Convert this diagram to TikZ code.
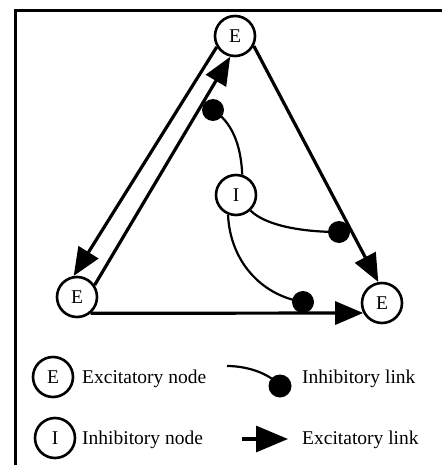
\documentclass[tikz,border=0pt]{standalone}
\usepackage{fontspec}
\setmainfont{Liberation Serif}
\usetikzlibrary{arrows.meta}
\begin{document}
\begin{tikzpicture}[x=1pt,y=-1pt,
  neuron/.style={circle, draw, line width=2.6pt, minimum size=40pt, inner sep=0pt, font=\fontsize{19.5}{22}\selectfont},
  exc/.style={line width=3.2pt, -{Triangle[length=28pt,width=23pt]}},
  inh/.style={line width=2.2pt},
  blob/.style={circle, fill, inner sep=0pt, minimum size=22pt},
  lbl/.style={anchor=base west, font=\fontsize{19.5}{22}\selectfont, inner sep=0pt},
  frameline/.style={line width=3pt}]
\useasboundingbox (0,0) rectangle (441,465);
% frame (left and top edges visible)
\coordinate (fb) at (15,470);
\coordinate (fc) at (15,11);
\coordinate (fr) at (446,11);
\draw[frameline] (fb) -- (fc) -- (fr);
% nodes
\node[neuron] (tE) at (235,36) {E};
\node[neuron] (I) at (236,195) {I};
\node[neuron] (lE) at (77,297) {E};
\node[neuron] (rE) at (382,303) {E};
% excitatory links
\draw[exc] (tE.211) -- (lE.99);
\draw[exc] (lE.34) -- (tE.257);
\draw[exc] (tE.332) -- (rE.100);
\draw[exc] (lE.-50) -- (rE.208);
% inhibitory links
\node[blob] (d1) at (213,110) {};
\node[blob] (d2) at (339,232) {};
\node[blob] (d3) at (303,302) {};
\draw[inh] (I.73) .. controls (241,145) and (232,122) .. (d1.center);
\draw[inh] (I.-47) .. controls (265,225) and (300,232) .. (d2.center);
\draw[inh] (I.-112) .. controls (230,260) and (260,295) .. (d3.center);
% legend
\node[neuron] (lgE) at (53,377) {E};
\node[neuron] (lgI) at (55,438) {I};
\node[lbl] (t1) at (82,383) {Excitatory node};
\node[lbl] (t2) at (302,383) {Inhibitory link};
\node[lbl] (t3) at (82,444) {Inhibitory node};
\node[lbl] (t4) at (302,444) {Excitatory link};
\coordinate (li0) at (227,366);
\node[blob, minimum size=23pt] (ld) at (280,386) {};
\draw[inh] (li0) .. controls (245,366) and (268,372) .. (ld.center);
\coordinate (le0) at (242,439);
\coordinate (le1) at (288,439);
\draw[line width=3.2pt, -{Triangle[length=32pt,width=26pt]}] (le0) -- (le1);
\end{tikzpicture}
\end{document}
